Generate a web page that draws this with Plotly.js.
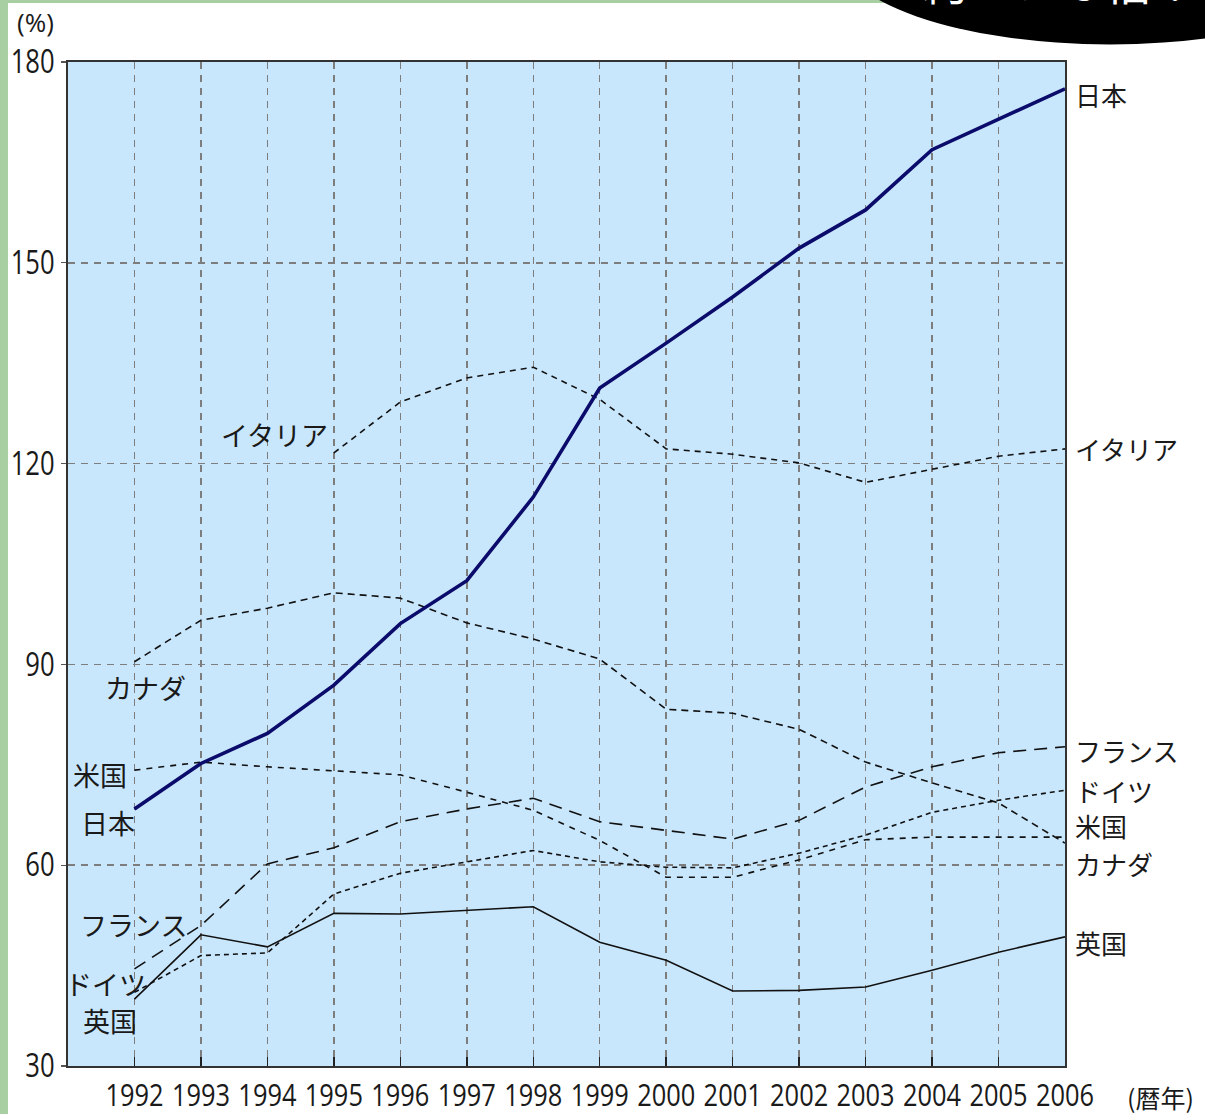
<!DOCTYPE html>
<html>
<head>
<meta charset="utf-8">
<script src="https://cdn.plot.ly/plotly-3.0.1.min.js"></script>
<style>
  html, body { margin: 0; padding: 0; background: #ffffff; }
  #chart { width: 1205px; height: 1114px; }
</style>
</head>
<body>
<div id="chart"></div>
<script>
// 主要国の政府債務残高(対GDP比, %)
const years = [1992, 1993, 1994, 1995, 1996, 1997, 1998, 1999, 2000, 2001, 2002, 2003, 2004, 2005, 2006];
const japan   = [68.4, 75.2, 79.7, 86.9, 96.1, 102.5, 115.0, 131.3, 138.0, 144.9, 152.2, 157.9, 166.9, 171.5, 176.0];
const italy   = [null, null, null, 121.6, 129.2, 132.8, 134.4, 129.6, 122.2, 121.4, 120.1, 117.2, 119.2, 121.1, 122.2];
const canada  = [90.4, 96.6, 98.4, 100.7, 99.9, 96.2, 93.8, 90.8, 83.3, 82.7, 80.3, 75.4, 72.3, 69.3, 63.3];
const usa     = [74.2, 75.4, 74.7, 74.1, 73.5, 70.9, 68.2, 63.7, 58.2, 58.2, 60.8, 63.8, 64.2, 64.2, 64.2];
const france  = [44.5, 51.0, 60.2, 62.6, 66.5, 68.4, 70.0, 66.5, 65.2, 63.9, 66.7, 71.7, 74.7, 76.8, 77.7];
const germany = [41.0, 46.5, 46.9, 55.7, 58.8, 60.5, 62.2, 60.5, 59.7, 59.6, 61.8, 64.5, 67.9, 69.7, 71.2];
const uk      = [40.0, 49.6, 47.8, 52.8, 52.7, 53.2, 53.8, 48.5, 45.8, 41.2, 41.3, 41.8, 44.3, 47.0, 49.3];

const yTicks = [30, 60, 90, 120, 150, 180];
const xTickText = years.map(String);

// 系列名と左右のラベル位置
const seriesNames = ['日本', 'イタリア', 'カナダ', '米国', 'フランス', 'ドイツ', '英国'];
const leftLabelPos = {
  '日本':   [1991.60, 66.4],
  'イタリア': [1994.11, 124.3],
  'カナダ':  [1992.16, 86.5],
  '米国':   [1991.48, 73.5],
  'フランス': [1991.98, 51.1],
  'ドイツ':  [1991.56, 42.3],
  '英国':   [1991.63, 36.8]
};
const rightLabelY = {
  '日本': 175.1, 'イタリア': 122.2, 'フランス': 77.2, 'ドイツ': 71.2,
  '米国': 65.9, 'カナダ': 60.3, '英国': 48.5
};

const jpFont = '"Noto Sans CJK JP", "Noto Sans", sans-serif';
const numFont = '"Open Sans", "Noto Sans", sans-serif';

function line(y, name, color, width, dash) {
  return {
    x: years, y: y, name: name, type: 'scatter', mode: 'lines',
    line: { color: color, width: width, dash: dash },
    connectgaps: false, hoverinfo: 'x+y+name'
  };
}

const traces = [
  line(uk,      '英国',   '#111111', 1.6, 'solid'),
  line(germany, 'ドイツ',  '#111111', 1.6, '5px,4px'),
  line(france,  'フランス', '#111111', 1.6, '13px,8px'),
  line(usa,     '米国',   '#111111', 1.6, '6px,6px'),
  line(canada,  'カナダ',  '#111111', 1.6, '7px,5px'),
  line(italy,   'イタリア', '#111111', 1.6, '6px,5px'),
  line(japan,   '日本',   '#0b0b6b', 3.6, 'solid')
];

const annotations = [];
seriesNames.forEach(n => {
  const p = leftLabelPos[n];
  annotations.push({
    x: p[0], y: p[1], xref: 'x', yref: 'y', text: n, showarrow: false,
    xanchor: 'center', yanchor: 'middle',
    font: { family: jpFont, size: 27, color: '#1a1a1a' }
  });
  annotations.push({
    x: 2006, y: rightLabelY[n], xref: 'x', yref: 'y', text: n, showarrow: false,
    xanchor: 'left', yanchor: 'middle', xshift: 8,
    font: { family: jpFont, size: 26, color: '#1a1a1a' }
  });
});
annotations.push({
  x: -0.033, y: 1.040, xref: 'paper', yref: 'paper', text: '(%)', showarrow: false,
  xanchor: 'center', yanchor: 'middle',
  font: { family: numFont, size: 26, color: '#1a1a1a' }
});
annotations.push({
  x: 1.096, y: -0.031, xref: 'paper', yref: 'paper', text: '(暦年)', showarrow: false,
  xanchor: 'center', yanchor: 'middle',
  font: { family: jpFont, size: 25, color: '#1a1a1a' }
});
// 右上の吹き出し
annotations.push({
  x: 0.995, y: 1.047, xref: 'paper', yref: 'paper', text: '約２．６倍！', showarrow: false,
  xanchor: 'center', yanchor: 'bottom',
  font: { family: jpFont, size: 46, color: '#ffffff' }
});

const shapes = [
  // 左端と上端の緑色の縁
  { type: 'rect', xref: 'paper', yref: 'paper', x0: -0.075, x1: -0.0602, y0: -0.06, y1: 1.07,
    fillcolor: '#a8cfa2', line: { width: 0 }, layer: 'below' },
  { type: 'rect', xref: 'paper', yref: 'paper', x0: -0.075, x1: 0.82, y0: 1.0588, y1: 1.07,
    fillcolor: '#a8cfa2', line: { width: 0 }, layer: 'below' },
  // 黒い吹き出し
  { type: 'circle', xref: 'paper', yref: 'paper', x0: 0.77, x1: 1.32, y0: 1.0175, y1: 1.21,
    fillcolor: '#000000', line: { width: 0 }, layer: 'above' }
];

const layout = {
  width: 1205, height: 1114,
  margin: { l: 68, r: 140, t: 62, b: 48 },
  paper_bgcolor: '#ffffff',
  plot_bgcolor: '#c9e7fc',
  showlegend: false,
  xaxis: {
    range: [1991, 2006],
    tickvals: years, ticktext: xTickText, tickangle: 0,
    ticks: 'inside', ticklen: 9, tickwidth: 1.5, tickcolor: '#222',
    ticklabelstandoff: 1,
    showgrid: true, gridcolor: '#7d7d7d', gridwidth: 1.5, griddash: '7px,6px',
    showline: true, linecolor: '#333333', linewidth: 2, mirror: true,
    zeroline: false,
    tickfont: { family: numFont, size: 31, color: '#1a1a1a' }
  },
  yaxis: {
    range: [30, 180],
    tickvals: yTicks,
    ticks: 'outside', ticklen: 5, tickwidth: 1.2, tickcolor: '#555',
    ticklabelstandoff: 0,
    showgrid: true, gridcolor: '#7d7d7d', gridwidth: 1.5, griddash: '7px,6px',
    showline: true, linecolor: '#333333', linewidth: 2, mirror: true,
    zeroline: false,
    tickfont: { family: numFont, size: 32, color: '#1a1a1a' }
  },
  annotations: annotations,
  shapes: shapes
};

// 目盛ラベルは幅を詰めた書体で表示する
function narrowTickLabels(gd) {
  gd.querySelectorAll('.xtick text').forEach(t => {
    const w = t.getComputedTextLength();
    t.setAttribute('textLength', (w * 0.82).toFixed(1));
    t.setAttribute('lengthAdjust', 'spacingAndGlyphs');
  });
  gd.querySelectorAll('.ytick text').forEach(t => {
    const w = t.getComputedTextLength();
    t.setAttribute('textLength', (w * 0.80).toFixed(1));
    t.setAttribute('lengthAdjust', 'spacingAndGlyphs');
  });
}

Plotly.newPlot('chart', traces, layout, { staticPlot: true }).then(narrowTickLabels);
</script>
</body>
</html>
